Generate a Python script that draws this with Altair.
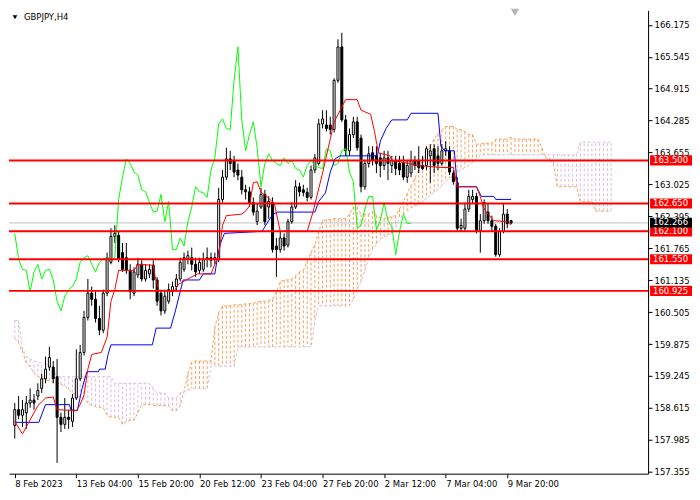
import altair as alt
import pandas as pd

# ---------------- data ----------------
opens = [158.27, 158.58, 158.47, 158.52, 158.71, 158.77, 158.85, 159.00, 159.19, 159.42,
         159.42, 159.23, 158.43, 158.29, 158.43, 158.35, 158.81, 159.19, 159.71, 160.40,
         160.88, 160.76, 160.38, 160.15, 160.88, 161.49, 162.00, 162.02, 161.68, 161.58,
         161.33, 160.88, 161.24, 161.45, 161.16, 161.26, 161.43, 161.14, 160.88, 160.53,
         160.72, 160.91, 161.01, 161.16, 161.35, 161.55, 161.58, 161.45, 161.33, 161.35,
         161.55, 161.58, 161.55, 161.55, 162.73, 163.17, 163.53, 163.50, 163.31, 163.17,
         162.92, 162.88, 162.67, 162.29, 162.58, 162.83, 162.58, 162.67, 161.81, 161.74,
         161.97, 161.83, 162.29, 162.58, 162.98, 162.92, 162.87, 162.77, 163.31, 163.44,
         164.22, 164.20, 164.20, 164.11, 165.08, 165.74, 164.30, 163.69, 164.01, 164.26,
         163.94, 162.98, 163.44, 163.65, 163.59, 163.55, 163.40, 163.55, 163.40, 163.50,
         163.44, 163.46, 163.17, 163.25, 163.50, 163.50, 163.40, 163.40, 163.59, 163.73,
         163.59, 163.44, 163.69, 163.69, 163.25, 163.06, 162.16, 162.16, 162.54, 162.73,
         162.79, 162.12, 162.31, 162.48, 162.31, 162.20, 161.64, 162.10, 162.44, 162.31]
closes = [158.58, 158.47, 158.58, 158.71, 158.77, 158.71, 158.96, 159.19, 159.38, 159.61,
          159.19, 158.43, 158.29, 158.43, 158.39, 158.81, 159.19, 159.71, 160.40, 160.88,
          160.76, 160.38, 160.15, 160.88, 161.58, 162.00, 162.06, 161.55, 161.35, 161.33,
          160.91, 161.30, 161.45, 161.16, 161.33, 161.35, 161.14, 160.72, 160.53, 160.82,
          160.95, 161.01, 161.16, 161.49, 161.58, 161.62, 161.45, 161.30, 161.49, 161.55,
          161.58, 161.53, 161.58, 162.73, 163.17, 163.53, 163.44, 163.27, 163.21, 162.92,
          162.88, 162.67, 162.48, 162.50, 162.83, 162.29, 162.69, 161.74, 161.74, 161.97,
          161.81, 162.29, 162.58, 162.98, 162.88, 162.87, 162.77, 163.31, 163.55, 164.22,
          164.32, 164.13, 164.11, 165.08, 165.74, 164.30, 163.69, 164.01, 164.26, 163.75,
          162.98, 163.44, 163.63, 163.50, 163.44, 163.40, 163.55, 163.44, 163.50, 163.34,
          163.31, 163.17, 163.40, 163.50, 163.40, 163.36, 163.34, 163.73, 163.69, 163.40,
          163.44, 163.69, 163.73, 163.27, 163.08, 162.16, 162.22, 162.54, 162.79, 162.79,
          162.12, 162.31, 162.67, 162.31, 162.20, 161.64, 162.10, 162.44, 162.25, 162.266]
highs = [158.71, 158.85, 158.77, 158.85, 159.00, 158.89, 159.10, 159.29, 159.63, 159.82,
         159.54, 159.58, 158.52, 158.81, 158.58, 158.89, 159.77, 159.86, 160.53, 161.16,
         161.01, 160.91, 160.63, 160.95, 161.68, 162.16, 162.22, 162.10, 161.87, 161.87,
         161.45, 161.39, 161.58, 161.53, 161.45, 161.45, 161.53, 161.20, 160.95, 160.95,
         161.07, 161.11, 161.26, 161.58, 161.68, 161.72, 161.78, 161.58, 161.58, 161.68,
         161.78, 161.68, 161.68, 162.96, 163.31, 163.75, 163.69, 163.59, 163.44, 163.31,
         163.02, 162.98, 162.77, 162.64, 162.96, 162.92, 162.79, 162.77, 161.97, 162.10,
         162.06, 162.35, 162.67, 163.11, 163.06, 163.02, 162.96, 163.40, 163.63, 164.32,
         164.49, 164.49, 164.36, 165.12, 165.89, 166.02, 164.40, 164.13, 164.36, 164.36,
         164.01, 163.50, 163.78, 163.78, 163.78, 163.65, 163.69, 163.69, 163.59, 163.59,
         163.59, 163.59, 163.50, 163.69, 163.59, 163.78, 163.59, 163.78, 163.82, 163.82,
         163.78, 163.82, 163.88, 163.78, 163.31, 163.17, 162.35, 162.67, 162.92, 162.92,
         162.86, 162.44, 162.73, 162.64, 162.41, 162.25, 162.16, 162.64, 162.54, 162.33]
lows = [158.01, 158.39, 158.24, 158.20, 158.62, 158.58, 158.77, 158.91, 159.10, 159.35,
        159.10, 157.53, 158.14, 158.20, 158.20, 158.24, 158.77, 159.15, 159.65, 160.34,
        160.63, 160.30, 160.05, 160.09, 160.82, 161.45, 161.87, 161.49, 161.30, 161.26,
        160.76, 160.82, 161.18, 161.11, 161.11, 161.18, 160.97, 160.63, 160.44, 160.47,
        160.67, 160.82, 160.91, 161.11, 161.30, 161.45, 161.33, 161.20, 161.26, 161.30,
        161.39, 161.39, 161.45, 161.49, 162.67, 163.11, 163.31, 163.17, 163.11, 162.83,
        162.73, 162.58, 162.41, 162.22, 162.54, 162.22, 162.35, 161.68, 161.20, 161.68,
        161.72, 161.78, 162.25, 162.54, 162.79, 162.79, 162.69, 162.73, 163.25, 163.40,
        164.13, 164.07, 164.01, 164.05, 165.03, 164.26, 163.59, 163.59, 163.94, 163.69,
        162.87, 162.92, 163.36, 163.40, 163.25, 163.17, 163.31, 163.11, 163.25, 163.21,
        163.21, 163.11, 163.06, 163.17, 163.31, 163.25, 163.31, 163.31, 163.06, 163.25,
        163.31, 163.40, 163.59, 163.21, 163.02, 162.10, 162.10, 162.10, 162.48, 162.64,
        162.06, 161.68, 162.25, 162.25, 162.10, 161.60, 161.60, 162.06, 162.16, 162.24]

# Tenkan-sen (red) vertices
tenkan_bar = [0, 2, 6, 8, 10, 11, 16, 17, 18, 19, 20, 22.5, 24, 25, 26, 27, 31, 32, 36, 36.5,
              37.5, 41.5, 42.5, 45, 47.5, 51, 52, 53, 54, 55, 59, 60, 61, 62, 63, 64, 65.5,
              67.5, 69, 76, 77.5, 80, 83, 86, 89, 90, 92.5, 93.5, 94.5, 97.5, 98, 102.5,
              104.5, 111, 114, 115, 120, 121, 121.75, 123, 124.5, 128, 129]
tenkan_val = [158.35, 158.10, 158.66, 158.81, 158.83, 158.58, 158.56, 158.68, 158.87, 159.38,
              159.67, 159.71, 160.01, 160.72, 160.95, 161.33, 161.33, 161.45, 161.43, 161.20,
              160.93, 160.93, 161.05, 161.16, 161.26, 161.26, 161.45, 161.62, 162.22, 162.41,
              162.44, 162.50, 162.60, 163.06, 163.08, 162.87, 162.79, 162.64, 162.10, 162.10,
              162.48, 163.25, 164.26, 164.70, 164.70, 164.49, 164.41, 164.07, 163.65, 163.59,
              163.50, 163.44, 163.40, 163.36, 163.36, 162.98, 162.98, 162.79, 162.58, 162.44,
              162.31, 162.29, 162.22]

# Kijun-sen (blue) vertices
kijun_bar = [0, 6.25, 8, 14.25, 14.5, 16.25, 17.5, 18.75, 21.75, 22, 23.5, 24.25, 25, 35.75,
             36.75, 40.5, 41.75, 43.75, 48, 49, 52, 52.75, 53.5, 54.5, 64.25, 65.5, 67, 68.25,
             78, 79, 80.75, 82, 83.25, 84.5, 94.25, 95, 96.5, 98, 102, 103, 110, 110.75,
             111.75, 114.25, 115, 120, 121.25, 124.5, 125, 129]
kijun_val = [158.33, 158.33, 158.68, 158.68, 158.58, 158.56, 159.00, 159.33, 159.33, 159.38,
             159.38, 159.67, 159.86, 159.86, 160.19, 160.19, 160.53, 161.14, 161.14, 161.26,
             161.26, 161.62, 161.87, 162.06, 162.10, 162.25, 162.43, 162.48, 162.48, 162.69,
             162.86, 163.27, 163.53, 163.59, 163.59, 163.88, 164.13, 164.30, 164.30, 164.43,
             164.43, 163.78, 163.69, 163.69, 162.98, 162.98, 162.79, 162.79, 162.73, 162.73]

# Senkou span A / B, one value per bar (0..155)
span_a = [159.99, 159.90, 159.73, 159.50, 159.42, 159.31, 159.23, 159.21, 159.17, 159.15,
          159.12, 159.10, 159.08, 159.04, 158.98, 158.92, 158.87, 158.83, 158.79, 158.71,
          158.66, 158.64, 158.62, 158.62, 158.47, 158.43, 158.43, 158.43, 158.29, 158.35,
          158.37, 158.37, 158.52, 158.68, 158.68, 158.68, 158.66, 158.66, 158.66, 158.66,
          158.66, 158.56, 158.56, 158.66, 158.94, 159.29, 159.52, 159.54, 159.54, 159.54,
          159.54, 159.54, 160.21, 160.49, 160.63, 160.63, 160.63, 160.65, 160.65, 160.65,
          160.67, 160.67, 160.68, 160.70, 160.72, 160.72, 160.74, 160.76, 160.91, 161.11,
          161.14, 161.14, 161.16, 161.22, 161.30, 161.33, 161.51, 161.68, 161.83, 162.10,
          162.31, 162.33, 162.33, 162.35, 162.35, 162.35, 162.35, 162.44, 162.58, 162.58,
          162.44, 162.44, 162.44, 162.50, 162.41, 162.37, 162.35, 162.37, 162.39, 162.41,
          162.54, 162.69, 162.85, 163.00, 163.15, 163.31, 163.50, 163.65, 163.78, 163.92,
          164.03, 164.11, 164.17, 164.17, 164.17, 164.11, 164.11, 164.07, 164.01, 164.01,
          163.82, 163.82, 163.84, 163.84, 163.84, 163.92, 163.92, 163.92, 163.92, 163.96,
          163.92, 163.92, 163.92, 163.92, 163.92, 163.92, 163.92, 163.75, 163.55, 163.50,
          163.44, 162.98, 162.98, 162.98, 162.98, 162.98, 162.98, 162.69, 162.69, 162.69,
          162.69, 162.50, 162.50, 162.50, 162.50, 162.50]
span_b = [160.34, 160.34, 159.80, 159.63, 159.58, 159.54, 159.52, 159.50, 159.48, 159.44,
          159.38, 159.23, 159.23, 159.23, 159.23, 159.23, 159.23, 159.23, 159.23, 159.23,
          159.23, 159.23, 159.23, 159.23, 159.23, 159.23, 159.10, 159.10, 159.10, 159.10,
          159.10, 159.10, 159.10, 159.10, 159.10, 159.10, 159.00, 158.91, 158.91, 158.91,
          158.81, 158.81, 158.81, 158.91, 158.94, 158.96, 159.00, 159.00, 159.00, 159.00,
          159.00, 159.44, 159.44, 159.44, 159.44, 159.44, 159.44, 159.44, 159.82, 159.82,
          159.82, 159.82, 159.82, 159.82, 159.82, 159.82, 159.82, 159.82, 159.82, 159.82,
          159.82, 159.82, 159.82, 159.82, 159.82, 159.82, 159.82, 159.82, 160.34, 160.63,
          160.63, 160.63, 160.63, 160.63, 160.63, 160.63, 160.63, 160.63, 160.76, 160.95,
          161.11, 161.33, 161.58, 161.74, 161.85, 161.95, 161.99, 162.02, 162.06, 162.20,
          162.35, 162.43, 162.50, 162.56, 162.60, 162.64, 162.69, 162.75, 162.81, 162.87,
          162.92, 163.00, 163.08, 163.15, 163.21, 163.25, 163.31, 163.36, 163.40, 163.46,
          163.53, 163.61, 163.61, 163.61, 163.61, 163.61, 163.61, 163.61, 163.61, 163.61,
          163.61, 163.61, 163.61, 163.61, 163.61, 163.61, 163.61, 163.61, 163.61, 163.61,
          163.61, 163.61, 163.61, 163.61, 163.61, 163.61, 163.61, 163.86, 163.86, 163.86,
          163.86, 163.86, 163.86, 163.86, 163.86, 163.86]

level_prices = [163.500, 162.650, 162.100, 161.550, 160.925]
level_labels = ["163.500", "162.650", "162.100", "161.550", "160.925"]
bid_price = 162.266
bid_label = "162.266"

y_ticks = [157.355, 157.985, 158.615, 159.245, 159.875, 160.505, 161.135, 161.765,
           162.395, 163.025, 163.655, 164.285, 164.915, 165.545, 166.175]
x_tick_bars = [0, 16, 32, 48, 64, 80, 96, 112, 128]
x_tick_labels = ["8 Feb 2023", "13 Feb 04:00", "15 Feb 20:00", "20 Feb 12:00", "23 Feb 04:00",
                 "27 Feb 20:00", "2 Mar 12:00", "7 Mar 04:00", "9 Mar 20:00"]
shift_bar = 130
symbol_title = "GBPJPY,H4"

# ---------------- frames ----------------
n = len(opens)
candles = pd.DataFrame({"bar": list(range(n)), "open": opens, "close": closes,
                        "high": highs, "low": lows})
chikou = pd.DataFrame({"bar": list(range(n - 26)), "price": closes[26:]})
tenkan = pd.DataFrame({"bar": tenkan_bar, "price": tenkan_val})
kijun = pd.DataFrame({"bar": kijun_bar, "price": kijun_val})
cloud = pd.DataFrame({"bar": list(range(len(span_a))), "A": span_a, "B": span_b})
cloud["kind"] = ["up" if a >= b else "down" for a, b in zip(span_a, span_b)]
levels = pd.DataFrame({"price": level_prices, "label": level_labels})
bid = pd.DataFrame({"price": [bid_price], "label": [bid_label]})

# ---------------- layout / style ----------------
W, H = 640, 464
FONT = "DejaVu Sans"
FS = 8.5
xs = alt.Scale(domain=[-0.2, 163.3], nice=False, zero=False)
ys = alt.Scale(domain=[157.317, 166.462], nice=False, zero=False)

label_array = "[" + ",".join("'%s'" % s for s in x_tick_labels) + "]"
x_axis = alt.Axis(values=x_tick_bars, labelExpr=label_array + "[round(datum.value/16)]",
                  orient="bottom", grid=False, tickSize=4, labelAlign="left",
                  labelPadding=2, labelFont=FONT, labelFontSize=FS, labelColor="black",
                  domainColor="black", tickColor="black", labelOverlap=False,
                  labelFlush=False, labelBound=False, title=None)
y_axis = alt.Axis(values=y_ticks, format=".3f", orient="right", grid=False, tickSize=4,
                  labelPadding=2, labelFont=FONT, labelFontSize=FS, labelColor="black",
                  domainColor="black", tickColor="black", labelOverlap=False,
                  labelFlush=False, labelBound=False, title=None)


def X(f):
    return alt.X(f, type="quantitative", scale=xs, axis=x_axis)


def Y(f):
    return alt.Y(f, type="quantitative", scale=ys, axis=y_axis)


hatch = alt.Chart(cloud).mark_rule(strokeDash=[3, 2], strokeWidth=1).encode(
    x=X("bar"), y=Y("A"), y2="B",
    color=alt.Color("kind:N", scale=alt.Scale(domain=["up", "down"],
                                              range=["#F4A460", "#D8BFD8"]), legend=None),
)
line_a = alt.Chart(cloud).mark_line(color="#F4A460", strokeDash=[3, 2], strokeWidth=1).encode(
    x=X("bar"), y=Y("A"))
line_b = alt.Chart(cloud).mark_line(color="#D8BFD8", strokeDash=[3, 2], strokeWidth=1).encode(
    x=X("bar"), y=Y("B"))

bid_line = alt.Chart(bid).mark_rule(color="#C0C0C0", strokeWidth=1).encode(y=Y("price"))

wicks = alt.Chart(candles).mark_rule(color="black", strokeWidth=1).encode(
    x=X("bar"), y=Y("low"), y2="high")
bodies = alt.Chart(candles).mark_bar(size=2, stroke="black", strokeWidth=1).encode(
    x=X("bar"), y=Y("open"), y2="close",
    fill=alt.condition("datum.close >= datum.open", alt.value("white"), alt.value("black")),
)

chikou_line = alt.Chart(chikou).mark_line(color="#00FF00", strokeWidth=1).encode(
    x=X("bar"), y=Y("price"))
tenkan_line = alt.Chart(tenkan).mark_line(color="#FF0000", strokeWidth=1).encode(
    x=X("bar"), y=Y("price"))
kijun_line = alt.Chart(kijun).mark_line(color="#0000FF", strokeWidth=1).encode(
    x=X("bar"), y=Y("price"))

level_lines = alt.Chart(levels).mark_rule(color="#FF0000", strokeWidth=2).encode(y=Y("price"))

level_boxes = alt.Chart(levels).transform_calculate(
    lo="datum.price - 0.1", hi="datum.price + 0.1"
).mark_rect(color="#FF0000").encode(
    x=alt.value(W + 2), x2=alt.value(W + 44), y=Y("lo:Q"), y2="hi:Q")
level_text = alt.Chart(levels).mark_text(
    align="left", baseline="middle", color="white", font=FONT, fontSize=FS
).encode(x=alt.value(W + 5), y=Y("price"), text="label:N")

bid_box = alt.Chart(bid).transform_calculate(
    lo="datum.price - 0.09", hi="datum.price + 0.1"
).mark_rect(color="black").encode(
    x=alt.value(W + 2), x2=alt.value(W + 44), y=Y("lo:Q"), y2="hi:Q")
bid_text = alt.Chart(bid).mark_text(
    align="left", baseline="middle", color="white", font=FONT, fontSize=FS, dy=-1
).encode(x=alt.value(W + 5), y=Y("price"), text="label:N")

shift_marker = alt.Chart(pd.DataFrame({"bar": [shift_bar]})).mark_point(
    shape="triangle-down", filled=True, color="#B4B4B4", size=70, opacity=1
).encode(x=X("bar"), y=alt.value(2))

title_df = pd.DataFrame({"t": [symbol_title]})
title_tri = alt.Chart(title_df).mark_point(
    shape="triangle-down", filled=True, color="black", size=22, opacity=1
).encode(x=alt.value(6), y=alt.value(7))
title_text = alt.Chart(title_df).mark_text(
    align="left", baseline="middle", color="black", font=FONT, fontSize=FS
).encode(x=alt.value(15), y=alt.value(7), text="t:N")

chart = alt.layer(
    hatch, line_a, line_b, bid_line, wicks, bodies,
    chikou_line, kijun_line, tenkan_line, level_lines,
    level_boxes, level_text, bid_box, bid_text, shift_marker, title_tri, title_text,
).properties(
    width=W, height=H,
    padding={"left": 0, "top": 0, "right": 0, "bottom": 0},
    background="white",
).configure_view(stroke=None)

chart.save("out.html", embed_options={"renderer": "svg", "actions": False})
